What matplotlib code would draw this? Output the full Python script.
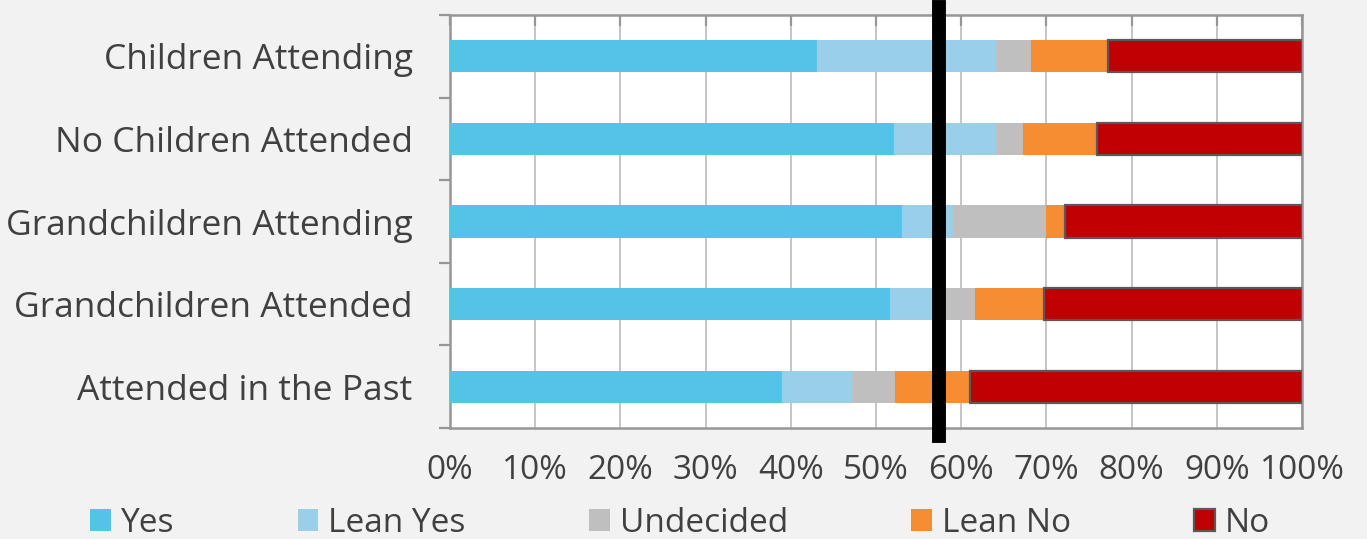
import matplotlib.pyplot as plt
import numpy as np

# Data
groups = ["Children Attending", "No Children Attended", "Grandchildren Attending",
          "Grandchildren Attended", "Attended in the Past"]
responses = ["Yes", "Lean Yes", "Undecided", "Lean No", "No"]
yes = [43.1, 52.1, 53.1, 51.6, 39.0]
lean_yes = [21.0, 12.0, 5.9, 5.4, 8.2]
undecided = [4.1, 3.1, 11.0, 4.6, 5.0]
lean_no = [9.0, 8.7, 2.2, 8.1, 8.8]
no = [22.8, 24.1, 27.8, 30.3, 39.0]
marker_value = 57.4

colors = ["#53C4E7", "#9ACFEA", "#BFBFBF", "#F78D33", "#C00000"]
series = [yes, lean_yes, undecided, lean_no, no]

plt.rcParams["font.family"] = ["Open Sans", "DejaVu Sans"]
text_color = "#404040"

fig = plt.figure(figsize=(13.67, 5.39), dpi=100, facecolor="#F2F2F2")
ax = fig.add_axes([0.3292, 0.2059, 0.6232, 0.7663])
ax.set_facecolor("white")

y = np.arange(len(groups))
left = np.zeros(len(groups))
for name, vals, col in zip(responses, series, colors):
    vals = np.array(vals)
    if name == "No":
        ax.barh(y, vals, left=left, height=0.39, color=col, edgecolor="#595959",
                linewidth=1.6, label=name, zorder=3)
    else:
        ax.barh(y, vals, left=left, height=0.39, color=col, linewidth=0,
                label=name, zorder=3)
    left += vals

# reference line
ax.axvline(marker_value, ymin=-0.02, ymax=1.02, color="black", linewidth=10,
           clip_on=False, zorder=5)

ax.set_xlim(0, 100)
ax.set_ylim(-0.5, len(groups) - 0.5)
ax.invert_yaxis()
ax.set_xticks(np.arange(0, 101, 10))
ax.set_xticklabels([f"{v}%" for v in range(0, 101, 10)])
ax.set_yticks(y)
ax.set_yticklabels(groups)
ax.set_yticks(np.arange(-0.5, len(groups), 1), minor=True)

ax.tick_params(axis="x", bottom=False, top=True, direction="in", length=8,
               width=1.6, color="#969696", labelsize=24, labelcolor=text_color,
               pad=19)
ax.tick_params(axis="y", which="major", length=0, labelsize=25.5,
               labelcolor=text_color, pad=27)
ax.tick_params(axis="y", which="minor", length=8, width=1.6, color="#969696")

ax.grid(True, axis="x", color="#C0C0C0", linewidth=1.3, zorder=0)
ax.set_axisbelow(True)
for sp in ax.spines.values():
    sp.set_color("#969696")
    sp.set_linewidth(1.8)

fig.legend(loc="center left", bbox_to_anchor=(90 / 1367, 0.029), ncol=5,
           frameon=False, fontsize=24, handlelength=0.62, handleheight=0.62,
           handletextpad=0.3, columnspacing=3.7, borderpad=0, borderaxespad=0,
           labelcolor=text_color)

plt.savefig("out.png", dpi=100, facecolor=fig.get_facecolor())
